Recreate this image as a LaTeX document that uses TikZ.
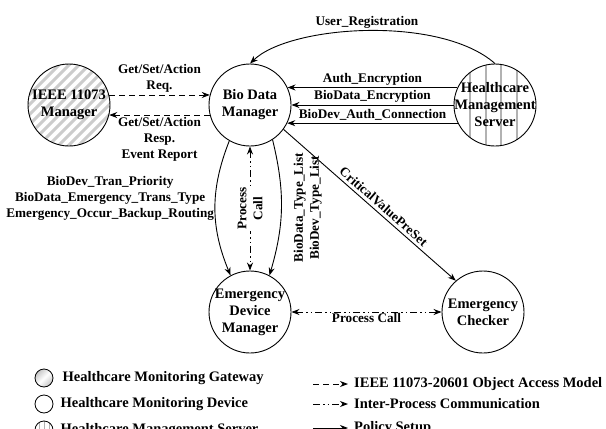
\documentclass[tikz,border=0pt]{standalone}
\usepackage{fontspec}
\setmainfont{Liberation Serif}
\usetikzlibrary{arrows.meta,positioning}

\begin{document}
\begin{tikzpicture}[x=1pt, y=-1pt,
  >={Stealth[length=8pt,width=6pt]},
  every node/.style={font=\fontsize{13.2}{16}\selectfont\bfseries, align=center},
  unit/.style={circle, draw, line width=0.9pt, minimum size=82pt, inner sep=0pt},
  unittext/.style={font=\fontsize{14.5}{17}\selectfont\bfseries, align=center, inner sep=0pt},
  gateway/.style={unit, path picture={
    \foreach \k in {-9,...,9}
      \draw[gray!40, line width=3pt] ([xshift=\k*10pt]path picture bounding box.center)
        ++(-60pt,-60pt) -- ++(120pt,120pt);}},
  server/.style={unit, path picture={
    \foreach \k in {-25,-9,6,22}
      \draw[gray!60, line width=1.6pt] ([xshift=\k pt]path picture bounding box.north)
        -- ([xshift=\k pt]path picture bounding box.south);}},
  icon/.style={circle, draw, line width=0.8pt, minimum size=18pt, inner sep=0pt},
  legtext/.style={font=\fontsize{14.5}{17}\selectfont\bfseries, inner sep=3pt},
  objacc/.style={->, line width=0.9pt, dash pattern=on 6pt off 4pt},
  ipc/.style={line width=0.9pt, dash pattern=on 7pt off 3pt on 1.5pt off 3pt on 1.5pt off 3pt},
  policy/.style={->, line width=0.9pt}]
\useasboundingbox (0,0) rectangle (606,429);
\clip (0,0) rectangle (606,429);

% units
\node[gateway, label={[unittext]center:IEEE 11073\\Manager}] (ieee) at (69,105) {};
\node[unit, label={[unittext]center:Bio Data\\Manager}] (bdm) at (250,105) {};
\node[server, label={[unittext]center:Healthcare\\Management\\Server}] (hms) at (495,105) {};
\node[unit, label={[unittext]center:Emergency\\Device\\Manager}] (edm) at (250,312) {};
\node[unit, label={[unittext]center:Emergency\\Checker}] (ec) at (483,312) {};

% object access model
\draw[objacc] (ieee.14) -- node[above, inner sep=2pt] {Get/Set/Action\\Req.} (bdm.166);
\draw[objacc] (bdm.194) -- node[below, inner sep=2pt] {Get/Set/Action\\Resp.\\Event Report} (ieee.-14);

% policy setup
\draw[policy] (hms.north) .. controls (440,15) and (290,25) .. (bdm.north)
  node[pos=0.5, above, inner sep=2pt] {User\_Registration};
\foreach \a/\b/\txt in {155/25/Auth\_Encryption, 180/0/BioData\_Encryption,
                        206/-26/BioDev\_Auth\_Connection}
  \draw[policy] (hms.\a) -- node[above, inner sep=2pt] {\txt} (bdm.\b);
\draw[policy] (bdm.240) to[bend right=22]
  node[pos=0.42, left, inner sep=1pt] {BioDev\_Tran\_Priority\\BioData\_Emergency\_Trans\_Type\\Emergency\_Occur\_Backup\_Routing} (edm.118);
\draw[policy] (bdm.-57) to[bend left=15]
  node[pos=0.5, rotate=90, anchor=north, inner sep=12pt] {BioData\_Type\_List\\BioDev\_Type\_List} (edm.62);
\draw[policy] (bdm.-36) -- node[pos=0.55, sloped, above, inner sep=3pt] {CriticalValuePreSet} (ec.131);

% inter-process communication
\draw[<->, ipc] (bdm.south) -- node[rotate=90, fill=white, inner sep=1pt] {Process\\Call} (edm.north);
\draw[<->, ipc] (edm.east) -- node[below, inner sep=1pt] {Process Call} (ec.west);

% legend
\node[icon, shading=axis, top color=gray!45, bottom color=gray!45, middle color=white,
      shading angle=45] (gwicon) at (44,378) {};
\node[legtext, right=6pt of gwicon] (gwtext) {Healthcare Monitoring Gateway};
\node[icon] (devicon) at (44,404) {};
\node[legtext, right=4pt of devicon] (devtext) {Healthcare Monitoring Device};
\node[icon, path picture={
    \foreach \k in {-5,0,5}
      \draw[gray!60, line width=1pt] ([xshift=\k pt]path picture bounding box.north)
        -- ([xshift=\k pt]path picture bounding box.south);}] (srvicon) at (44,430) {};
\node[legtext, right=4pt of srvicon] (srvtext) {Healthcare Management Server};

\node[legtext, anchor=west] (oamtext) at (351,384) {IEEE 11073-20601 Object Access Model};
\node[legtext, anchor=west] (ipctext) at (351,404) {Inter-Process Communication};
\node[legtext, anchor=west] (poltext) at (351,428) {Policy Setup};
\coordinate (oamstart) at (313,384);
\coordinate (ipcstart) at (313,404);
\coordinate (polstart) at (313,428);
\draw[objacc] (oamstart) -- ([xshift=-3pt]oamtext.west);
\draw[->, ipc] (ipcstart) -- ([xshift=-3pt]ipctext.west);
\draw[policy] (polstart) -- ([xshift=-3pt]poltext.west);
\end{tikzpicture}
\end{document}
